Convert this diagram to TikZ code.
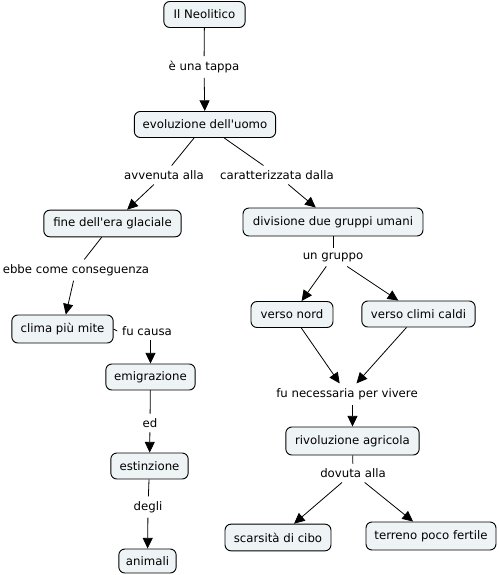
\documentclass[tikz,border=0pt]{standalone}
\usepackage{fontspec}
\setmainfont{DejaVu Sans}[Ligatures=TeXOff]
\usetikzlibrary{arrows.meta}
\definecolor{boxfill}{RGB}{238,243,245}
\tikzset{
  px/.style={x=0.75pt,y=-0.75pt},
  concept/.style={draw=black,line width=0.7pt,fill=boxfill,rounded corners=4.5pt,
    inner sep=0pt,minimum height=19.5pt,font=\fontsize{8.8}{11}\selectfont},
  lbl/.style={inner sep=3.5pt,font=\fontsize{8.8}{11}\selectfont},
  link/.style={line width=0.6pt,black},
  arr/.style={link,-{Triangle[length=8pt,width=7.5pt]}},
}
\begin{document}
\begin{tikzpicture}[px]
\useasboundingbox (0,0) rectangle (499,575);
% concepts
\node[concept,minimum width=61pt] (neo) at (204.5,14.5) {Il Neolitico};
\node[concept,minimum width=106pt] (evo) at (205,124.5) {evoluzione dell'uomo};
\node[concept,minimum width=103pt,minimum height=20pt] (fine) at (112.5,223.5) {fine dell'era glaciale};
\node[concept,minimum width=135pt,minimum height=21pt] (div) at (333,222) {divisione due gruppi umani};
\node[concept,minimum width=76pt,minimum height=21pt] (clima) at (62.5,329) {clima più mite};
\node[concept,minimum width=67pt] (emi) at (150.5,377) {emigrazione};
\node[concept,minimum width=61.5pt] (nord) at (292,314.5) {verso nord};
\node[concept,minimum width=85pt] (caldi) at (418.5,314) {verso climi caldi};
\node[concept,minimum width=100pt,minimum height=21pt] (riv) at (352.5,441) {rivoluzione agricola};
\node[concept,minimum width=58pt] (est) at (149.5,466) {estinzione};
\node[concept,minimum width=43pt,minimum height=18pt] (ani) at (147.5,561) {animali};
\node[concept,minimum width=79.5pt,minimum height=20pt] (scar) at (278,537.5) {scarsità di cibo};
\node[concept,minimum width=97.5pt,minimum height=21pt] (terr) at (431,536) {terreno poco fertile};
% linking phrases
\node[lbl] (l1) at (204,67) {è una tappa};
\node[lbl] (l2) at (164,175) {avvenuta alla};
\node[lbl] (l3) at (277,175) {caratterizzata dalla};
\node[lbl] (l4) at (76,270) {ebbe come conseguenza};
\node[lbl] (l5) at (333,257) {un gruppo};
\node[lbl] (l6) at (147,331) {fu causa};
\node[lbl] (l7) at (347,394) {fu necessaria per vivere};
\node[lbl] (l8) at (150,423) {ed};
\node[lbl] (l9) at (148,507) {degli};
\node[lbl] (l10) at (353,473) {dovuta alla};
% connectors
\draw[link] (neo) -- (l1);
\draw[arr] (l1) -- (evo);
\draw[link] (evo) -- (l2);
\draw[arr] (l2) -- (fine);
\draw[link] (evo) -- (l3);
\draw[arr] (l3) -- (div);
\draw[link] (fine) -- (l4);
\draw[arr] (l4) -- (clima);
\draw[link] (div) -- (l5);
\draw[arr] (l5) -- (nord);
\draw[arr] (l5) -- (caldi);
\draw[link] (clima.east) -- (l6.west);
\draw[arr] (l6.south -| emi.north) -- (emi.north);
\draw[arr] (nord) -- (l7);
\draw[arr] (caldi) -- (l7);
\draw[arr] (l7.south -| riv.north) -- (riv.north);
\draw[link] (emi) -- (l8);
\draw[arr] (l8) -- (est);
\draw[link] (est) -- (l9);
\draw[arr] (l9) -- (ani);
\draw[link] (riv) -- (l10);
\draw[arr] (l10) -- (scar);
\draw[arr] (l10) -- (terr);
\end{tikzpicture}
\end{document}
